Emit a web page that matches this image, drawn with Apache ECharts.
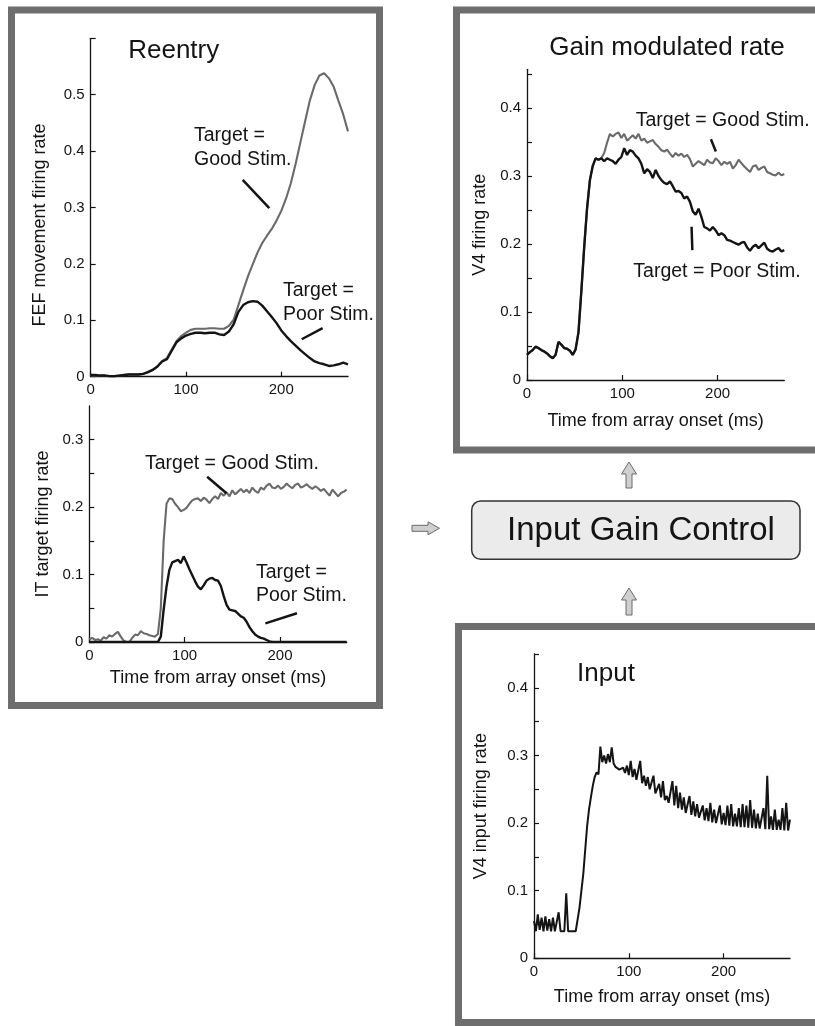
<!DOCTYPE html>
<html><head><meta charset="utf-8">
<script src="https://cdn.jsdelivr.net/npm/echarts@6/dist/echarts.min.js"></script>
<style>html,body{margin:0;padding:0;background:#fff}#c{width:815px;height:1026px}</style>
</head><body><div id="c"></div>
<script>
const FONT = '"Liberation Sans", Arial, Helvetica, sans-serif';
function range(a, b, s) { const r = []; for (let t = a; t <= b; t += s) r.push(t); return r; }

// sampling times (ms)
const timeFEF = range(0, 270, 5);
const timeIT = range(0, 270, 3);
const timeGain = range(0, 270, 3);
const timeInput = range(0, 270, 2);

// FEF movement firing rate (Reentry, top)
const fefGood = [
  0.002,0.002,0.002,0.002,0.001,0.001,0.002,0.003,0.004,0.004,
  0.004,0.005,0.008,0.012,0.018,0.028,0.033,0.048,0.063,0.072,
  0.078,0.083,0.085,0.085,0.085,0.086,0.086,0.085,0.085,0.090,
  0.101,0.127,0.153,0.178,0.199,0.220,0.237,0.250,0.262,0.277,
  0.294,0.316,0.343,0.377,0.415,0.453,0.490,0.517,0.534,0.538,
  0.529,0.514,0.489,0.465,0.435];
const fefPoor = [
  0.003,0.003,0.002,0.002,0.001,0.001,0.002,0.003,0.004,0.004,
  0.004,0.005,0.008,0.012,0.018,0.027,0.031,0.046,0.061,0.068,
  0.073,0.076,0.078,0.078,0.077,0.078,0.078,0.075,0.074,0.080,
  0.093,0.115,0.127,0.132,0.134,0.133,0.126,0.116,0.106,0.095,
  0.082,0.072,0.063,0.055,0.047,0.040,0.033,0.027,0.024,0.022,
  0.019,0.020,0.022,0.025,0.022];

// IT target firing rate (Reentry, bottom)
const itGood = [
  0.004,0.006,0.003,0.004,0.002,0.007,0.005,0.010,0.008,0.012,
  0.015,0.008,0.002,0.000,0.000,0.006,0.011,0.010,0.016,0.013,
  0.012,0.010,0.009,0.008,0.012,0.050,0.150,0.205,0.213,0.212,
  0.205,0.200,0.194,0.196,0.199,0.205,0.210,0.212,0.213,0.209,
  0.214,0.211,0.206,0.212,0.216,0.212,0.221,0.217,0.222,0.216,
  0.225,0.219,0.223,0.227,0.222,0.226,0.221,0.229,0.224,0.221,
  0.229,0.226,0.232,0.235,0.229,0.228,0.232,0.227,0.230,0.235,
  0.231,0.228,0.233,0.235,0.229,0.231,0.234,0.230,0.227,0.231,
  0.228,0.224,0.227,0.222,0.217,0.226,0.221,0.216,0.221,0.223,
  0.226];
const itPoor = [
  0,0,0,0,0,0,0,0,0,0,
  0,0,0,0,0,0,0,0,0,0,
  0,0,0,0,0,0.008,0.048,0.082,0.107,0.118,
  0.120,0.122,0.117,0.127,0.118,0.108,0.099,0.090,0.082,0.078,
  0.084,0.091,0.094,0.095,0.092,0.091,0.083,0.068,0.055,0.048,
  0.047,0.046,0.042,0.038,0.036,0.030,0.022,0.016,0.011,0.008,
  0.006,0.005,0.003,0.001,0,0,0,0,0,0,
  0,0,0,0,0,0,0,0,0,0,
  0,0,0,0,0,0,0,0,0,0,
  0];

// V4 firing rate (Gain modulated rate)
const gainGood = [
  0.037,0.041,0.044,0.049,0.047,0.044,0.042,0.039,0.035,0.032,
  0.037,0.056,0.052,0.047,0.046,0.043,0.037,0.045,0.070,0.130,
  0.195,0.252,0.294,0.315,0.326,0.324,0.326,0.334,0.349,0.362,
  0.358,0.362,0.364,0.356,0.362,0.352,0.356,0.360,0.355,0.362,
  0.352,0.355,0.349,0.351,0.353,0.347,0.343,0.338,0.336,0.339,
  0.333,0.328,0.334,0.330,0.333,0.328,0.331,0.325,0.314,0.318,
  0.322,0.319,0.316,0.324,0.320,0.319,0.326,0.322,0.316,0.321,
  0.318,0.321,0.311,0.316,0.324,0.319,0.314,0.310,0.306,0.314,
  0.316,0.309,0.312,0.314,0.306,0.304,0.302,0.301,0.305,0.301,
  0.303];
const gainPoor = [
  0.037,0.041,0.044,0.049,0.047,0.044,0.042,0.039,0.035,0.032,
  0.037,0.056,0.052,0.047,0.046,0.043,0.037,0.045,0.070,0.130,
  0.195,0.252,0.294,0.315,0.326,0.324,0.326,0.322,0.326,0.324,
  0.322,0.318,0.324,0.328,0.341,0.331,0.338,0.336,0.330,0.326,
  0.318,0.304,0.310,0.306,0.297,0.309,0.300,0.294,0.290,0.288,
  0.292,0.285,0.277,0.278,0.275,0.267,0.270,0.262,0.248,0.243,
  0.252,0.240,0.225,0.223,0.220,0.225,0.220,0.213,0.216,0.213,
  0.206,0.205,0.203,0.201,0.199,0.202,0.203,0.195,0.190,0.196,
  0.199,0.194,0.198,0.202,0.193,0.190,0.189,0.192,0.194,0.189,
  0.191];

// V4 input firing rate (Input)
const inputRate = [
  0.055,0.040,0.065,0.042,0.060,0.040,0.062,0.041,0.058,0.040,
  0.060,0.040,0.040,0.068,0.040,0.040,0.040,0.096,0.040,0.040,
  0.040,0.040,0.040,0.040,0.075,0.100,0.125,0.160,0.195,0.220,
  0.238,0.255,0.268,0.275,0.272,0.313,0.290,0.300,0.288,0.302,
  0.290,0.312,0.288,0.283,0.281,0.279,0.277,0.282,0.274,0.285,
  0.271,0.292,0.268,0.280,0.264,0.262,0.292,0.259,0.270,0.255,
  0.268,0.250,0.248,0.270,0.244,0.242,0.258,0.238,0.262,0.234,
  0.240,0.230,0.229,0.262,0.226,0.255,0.222,0.245,0.220,0.238,
  0.215,0.214,0.240,0.212,0.232,0.210,0.228,0.208,0.207,0.226,
  0.204,0.222,0.203,0.230,0.201,0.220,0.200,0.199,0.226,0.198,
  0.215,0.197,0.226,0.196,0.228,0.195,0.214,0.195,0.222,0.194,
  0.228,0.194,0.226,0.193,0.234,0.193,0.220,0.192,0.214,0.192,
  0.192,0.222,0.191,0.270,0.191,0.210,0.190,0.220,0.190,0.205,
  0.190,0.222,0.189,0.230,0.189,0.205];

// tick labels
const xTickValues = [0, 100, 200];
const yLabelsFEF = [0, 0.1, 0.2, 0.3, 0.4, 0.5];
const yTicksFEF = [0, 0.1, 0.2, 0.3, 0.4, 0.5, 0.6];
const yLabelsIT = [0, 0.1, 0.2, 0.3];
const yTicksIT = [0, 0.05, 0.1, 0.15, 0.2, 0.25, 0.3];
const yLabelsV4 = [0, 0.1, 0.2, 0.3, 0.4];
const yTicksV4 = [0, 0.05, 0.1, 0.15, 0.2, 0.25, 0.3, 0.35, 0.4, 0.45];

const zip = (t, v) => t.map((x, i) => [x, v[i]]);
const INK = '#141414', GREY_LINE = '#6a6a6a', FRAME = '#6e6e6e';

function xAx(gi, name, gap) {
  return {
    type: 'value', gridIndex: gi, min: 0, max: 270,
    axisLine: { show: true, lineStyle: { color: INK, width: 1.3 } },
    axisTick: { show: true, inside: true, length: 5, customValues: xTickValues, lineStyle: { color: INK, width: 1.2 } },
    axisLabel: { customValues: xTickValues, color: INK, fontSize: 15, fontFamily: FONT, margin: 6 },
    splitLine: { show: false },
    name: name, nameLocation: 'middle', nameGap: gap,
    nameTextStyle: { fontSize: 18, color: INK, fontFamily: FONT }
  };
}
function yAx(gi, max, labels, ticks, name, gap, pad) {
  return {
    type: 'value', gridIndex: gi, min: 0, max: max,
    axisLine: { show: true, lineStyle: { color: INK, width: 1.3 } },
    axisTick: { show: true, inside: true, length: 5, customValues: ticks, lineStyle: { color: INK, width: 1.2 } },
    axisLabel: { customValues: labels, color: INK, fontSize: 15, fontFamily: FONT, margin: 6,
      formatter: v => String(Math.round(v * 10) / 10) },
    splitLine: { show: false },
    name: name, nameLocation: 'middle', nameGap: gap,
    nameTextStyle: { fontSize: 18, color: INK, fontFamily: FONT, padding: pad || 0 }
  };
}
function leader(p1, p2) {
  return {
    silent: true, symbol: ['none', 'none'], animation: false,
    label: { show: false },
    lineStyle: { color: INK, width: 2.5, type: 'solid' },
    data: [[{ coord: p1 }, { coord: p2 }]]
  };
}
function line(name, gi, data, color, width, ml) {
  const s = {
    name: name, type: 'line', xAxisIndex: gi, yAxisIndex: gi, data: data,
    showSymbol: false, symbol: 'none', smooth: false,
    lineStyle: { color: color, width: width }, itemStyle: { color: color },
    emphasis: { disabled: true }
  };
  if (ml) s.markLine = ml;
  return s;
}
function txt(x, y, text, size, align) {
  return { type: 'text', x: x, y: y, silent: true,
    style: { text: text, font: size + 'px ' + FONT, fill: INK, textAlign: align || 'left', textVerticalAlign: 'middle' } };
}
function upArrow(cx, yt, yb) {
  return { type: 'polygon', silent: true,
    shape: { points: [[cx, yt], [cx + 7.5, yt + 12], [cx + 3, yt + 12], [cx + 3, yb], [cx - 3, yb], [cx - 3, yt + 12], [cx - 7.5, yt + 12]] },
    style: { fill: '#cfcfcf', stroke: '#6a6a6a', lineWidth: 1 } };
}

const chart = echarts.init(document.getElementById('c'), null, { renderer: 'canvas' });
chart.setOption({
  animation: false,
  backgroundColor: '#fff',
  grid: [
    { left: 90.7, top: 38.3, width: 257.3, height: 338.4 },
    { left: 89.3, top: 406, width: 257.4, height: 236 },
    { left: 527, top: 69.3, width: 257.3, height: 310.7 },
    { left: 534, top: 654, width: 256, height: 304.3 }
  ],
  xAxis: [
    xAx(0, '', 0),
    xAx(1, 'Time from array onset (ms)', 27),
    xAx(2, 'Time from array onset (ms)', 32),
    xAx(3, 'Time from array onset (ms)', 30)
  ],
  yAxis: [
    yAx(0, 0.6, yLabelsFEF, yTicksFEF, 'FEF movement firing rate', 42, [0, 35, 0, 0]),
    yAx(1, 0.35, yLabelsIT, yTicksIT, 'IT target firing rate', 37),
    yAx(2, 0.457, yLabelsV4, yTicksV4, 'V4 firing rate', 38),
    yAx(3, 0.45, yLabelsV4, yTicksV4, 'V4 input firing rate', 44)
  ],
  series: [
    line('FEF Target = Good Stim.', 0, zip(timeFEF, fefGood), GREY_LINE, 2.1,
      leader([159.5, 0.349], [187.4, 0.299])),
    line('FEF Target = Poor Stim.', 0, zip(timeFEF, fefPoor), INK, 2.4,
      leader([221.4, 0.0664], [243.4, 0.086])),
    line('IT Target = Good Stim.', 1, zip(timeIT, itGood), GREY_LINE, 2.1,
      leader([123.6, 0.245], [143.9, 0.2206])),
    line('IT Target = Poor Stim.', 1, zip(timeIT, itPoor), INK, 2.4,
      leader([184.7, 0.0277], [217.8, 0.0426])),
    line('V4 Target = Good Stim.', 2, zip(timeGain, gainGood), GREY_LINE, 2.1,
      leader([193, 0.354], [198.2, 0.336])),
    line('V4 Target = Poor Stim.', 2, zip(timeGain, gainPoor), INK, 2.4,
      leader([172.7, 0.2254], [173.5, 0.191])),
    line('V4 input', 3, zip(timeInput, inputRate), INK, 2)
  ],
  graphic: [
    // panel frames
    { type: 'rect', silent: true, shape: { x: 11.5, y: 10, width: 368, height: 695.5 }, style: { fill: 'none', stroke: FRAME, lineWidth: 7 } },
    { type: 'rect', silent: true, shape: { x: 456.5, y: 10, width: 400, height: 440 }, style: { fill: 'none', stroke: FRAME, lineWidth: 7 } },
    { type: 'rect', silent: true, shape: { x: 458.5, y: 626.5, width: 400, height: 396 }, style: { fill: 'none', stroke: FRAME, lineWidth: 7 } },
    // Input Gain Control box
    { type: 'rect', silent: true, shape: { x: 471.7, y: 501, width: 328.3, height: 58.3, r: 9 }, style: { fill: '#ebebeb', stroke: '#333', lineWidth: 1.5 } },
    txt(641, 531, 'Input Gain Control', 33, 'center'),
    // arrows
    upArrow(629, 462, 488),
    upArrow(629, 588, 615),
    { type: 'polygon', silent: true,
      shape: { points: [[439.5, 528.3], [428, 521.8], [428, 525.3], [412, 525.3], [412, 531.3], [428, 531.3], [428, 534.8]] },
      style: { fill: '#cfcfcf', stroke: '#6a6a6a', lineWidth: 1 } },
    // panel titles
    txt(173.7, 51, 'Reentry', 26, 'center'),
    txt(667, 47.5, 'Gain modulated rate', 26, 'center'),
    txt(606, 674, 'Input', 26, 'center'),
    // annotations
    txt(194, 135.5, 'Target =', 19.5),
    txt(194, 159.5, 'Good Stim.', 19.5),
    txt(283, 290.5, 'Target =', 19.5),
    txt(283, 314.5, 'Poor Stim.', 19.5),
    txt(145, 463.5, 'Target = Good Stim.', 19.5),
    txt(256, 572.5, 'Target =', 19.5),
    txt(256, 595.5, 'Poor Stim.', 19.5),
    txt(635.7, 120.8, 'Target = Good Stim.', 19.5),
    txt(633.3, 271.5, 'Target = Poor Stim.', 19.5)
  ]
});
</script>
</body></html>
